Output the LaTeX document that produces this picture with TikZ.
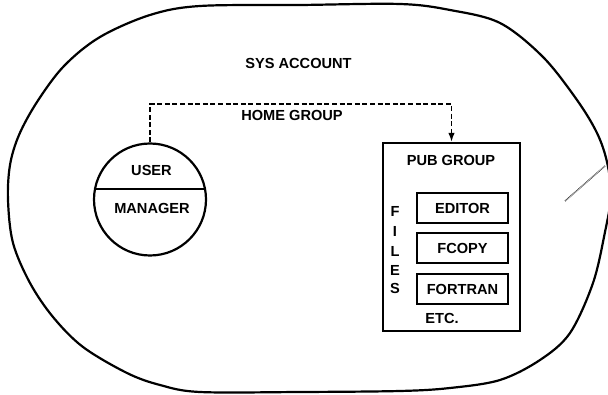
\documentclass[tikz,border=0pt]{standalone}
\usepackage{fontspec}
\setmainfont{Liberation Sans}
\usetikzlibrary{arrows.meta,calc}
\tikzset{
  lbl/.style={font=\fontsize{14.6}{16}\selectfont\bfseries, inner sep=0pt},
  thick line/.style={line width=2.2pt},
  filebox/.style={draw, thick line, minimum width=91pt, minimum height=30pt, inner sep=0pt, font=\fontsize{14.6}{16}\selectfont\bfseries},
  conn/.style={line width=1.6pt, dash pattern=on 5pt off 2.6pt, -{Latex[length=9pt,width=6.5pt]}}
}
\begin{document}
\begin{tikzpicture}[x=1pt,y=-1pt]
\useasboundingbox (0,0) rectangle (608,395);
% outer account boundary
\draw[thick line] plot[smooth cycle, tension=0.55] coordinates {
 (200,6) (300,5) (400,4) (450,10) (500,23) (543,57) (577,100) (597,133)
 (607,162) (611,195) (605,232) (593,283) (570,333) (540,360) (500,380)
 (450,388) (400,391) (300,392) (200,392) (160,385) (127,373) (83,347)
 (53,317) (30,283) (13,243) (8,200) (10,165) (19,135) (37,102) (64,66)
 (100,37) (150,15)};
% faint scan mark
\draw[gray!60!black, line width=1.5pt, dash pattern=on 0.8pt off 0.7pt] (565,201) -- (605,166);

\node[lbl] (sys) at (298.5,63) {SYS ACCOUNT};
\node[lbl] (home) at (292,115) {HOME GROUP};

% user / manager circle
\node[circle, draw, thick line, minimum size=112pt, inner sep=0pt] (usr) at (150,199.5) {};
\draw[thick line] ($(usr.center)+(-55,-10.5)$) -- ($(usr.center)+(55,-10.5)$);
\node[lbl] (user) at (151.5,170) {USER};
\node[lbl] (mgr) at (152,208) {MANAGER};

% pub group box
\node[draw, thick line, minimum width=137pt, minimum height=188pt, inner sep=0pt] (pub) at (451.5,237) {};
\node[lbl] (pubt) at (451,160) {PUB GROUP};

\node[filebox] (ed) at (462.5,208) {EDITOR};
\node[filebox] (fc) at (462.5,248) {FCOPY};
\node[filebox] (ft) at (462.5,289) {FORTRAN};
\node[lbl] (etc) at (442,318.5) {ETC.};

\node[lbl] (fF) at (395,211) {F};
\node[lbl] (fI) at (395,231) {I};
\node[lbl] (fL) at (395,251) {L};
\node[lbl] (fE) at (395,270) {E};
\node[lbl] (fS) at (395,288) {S};

% home group connector
\coordinate (bend) at (150,104);
\draw[conn] (usr.north) -- (usr.north |- bend) -| (pub.north);
\end{tikzpicture}
\end{document}
